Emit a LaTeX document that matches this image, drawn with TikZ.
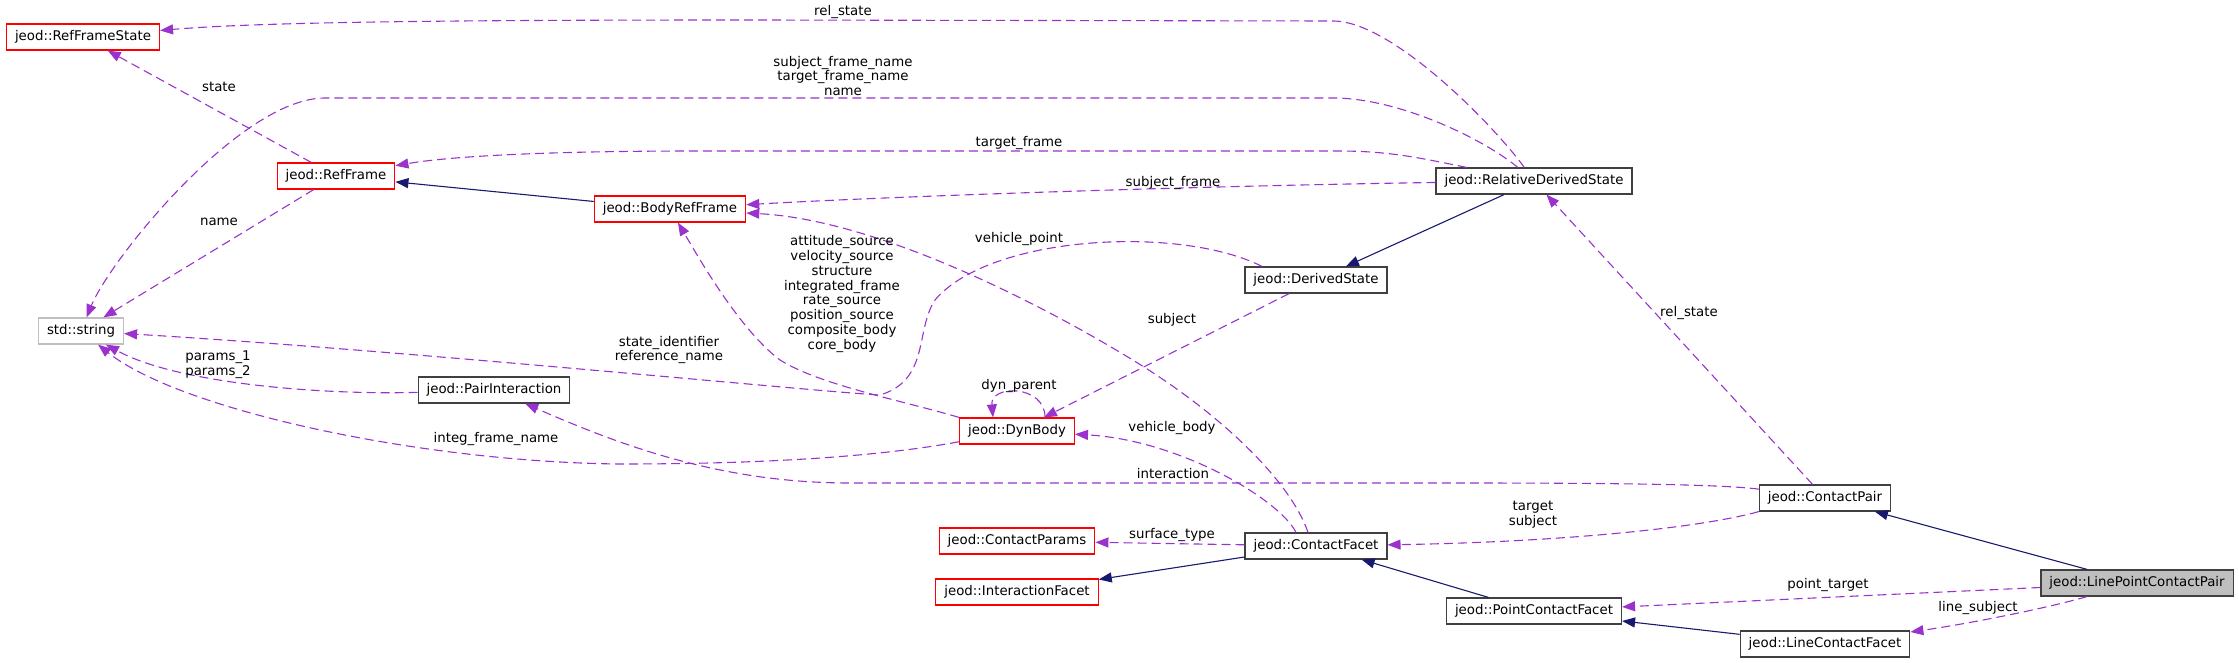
\documentclass[tikz,border=0pt]{standalone}
\usepackage{fontspec}
\setmainfont{DejaVu Sans}
\usetikzlibrary{arrows.meta,calc}
\definecolor{depc}{HTML}{9A32CD}
\definecolor{inhc}{HTML}{191970}
\definecolor{docb}{HTML}{404040}
\definecolor{undoc}{HTML}{FF0000}
\definecolor{extb}{HTML}{BFBFBF}
\newcommand{\lblfont}{\fontsize{6.67pt}{7.4pt}\selectfont}
\begin{document}
\begin{tikzpicture}[x=0.5pt,y=-0.5pt,
  cls/.style={draw=#1, line width=0.6pt, fill=white, inner xsep=4.25pt, inner ysep=0pt,
              minimum height=13pt, text height=4.9pt, text depth=1.5pt, font=\lblfont},
  lbl/.style={font=\lblfont, inner sep=0pt, align=center},
  use/.style={draw=depc, line width=0.55pt, dash pattern=on 4.5pt off 2.5pt,
              -{Triangle[length=6.5pt,width=5pt]}},
  inh/.style={draw=inhc, line width=0.55pt, -{Triangle[length=6.5pt,width=5pt]}},
]
\useasboundingbox (0,0) rectangle (2239,663);

% nodes
\node[cls=undoc] (RFS)  at (83,37)    {jeod::RefFrameState};
\node[cls=undoc] (RF)   at (336,176)  {jeod::RefFrame};
\node[cls=undoc] (BRF)  at (670,209)  {jeod::BodyRefFrame};
\node[cls=extb]  (STR)  at (81,331)   {std::string};
\node[cls=docb]  (PI)   at (494,390)  {jeod::PairInteraction};
\node[cls=undoc] (DB)   at (1017,431) {jeod::DynBody};
\node[cls=docb]  (RDS)  at (1534,181) {jeod::RelativeDerivedState};
\node[cls=docb]  (DS)   at (1316,280) {jeod::DerivedState};
\node[cls=docb]  (CP)   at (1825,498) {jeod::ContactPair};
\node[cls=undoc] (CPar) at (1017,541) {jeod::ContactParams};
\node[cls=docb]  (CF)   at (1316,546) {jeod::ContactFacet};
\node[cls=undoc] (IF)   at (1017,592) {jeod::InteractionFacet};
\node[cls=docb]  (PCF)  at (1534,611) {jeod::PointContactFacet};
\node[cls=docb, fill=extb] (LPCP) at (2137,583) {jeod::LinePointContactPair};
\node[cls=docb]  (LCF)  at (1825,644) {jeod::LineContactFacet};

% edges
\draw[use] (RDS) .. controls (1496,128) and (1393,21) .. (1333,21) -- (750,20)
           .. controls (450,20) and (260,22) .. (RFS);
\draw[use] (RDS) .. controls (1485,140) and (1400,98) .. (1333,98) -- (325,98)
           .. controls (240,98) and (110,260) .. (STR);
\draw[use] (RDS) .. controls (1420,158) and (1390,151) .. (1338,151) -- (700,151)
           .. controls (520,151) and (440,158) .. (RF);
\draw[use] (RDS) .. controls (1200,186) and (900,196) .. (BRF);
\draw[inh] (RDS) -- (DS);
\draw[inh] (BRF) -- (RF);
\draw[use] (RF) -- (RFS);
\draw[use] (RF) -- (STR);
\draw[use] ([xshift=-27pt]DS.north) .. controls (1180,225) and (990,235) .. (935,300)
           .. controls (915,330) and (930,380) .. (880,395)
           .. controls (820,392) and (400,350) .. (STR);
\draw[use] (DS) -- (DB);
\draw[use] ($(DB.north)+(28,0)$) .. controls +(0,-33) and +(-3,-33) .. ($(DB.north)+(-24,0)$);
\draw[use] (DB) .. controls (850,462) and (700,464) .. (620,464)
           .. controls (420,462) and (180,410) .. (STR);
\draw[use] (PI) .. controls (330,395) and (180,385) .. (STR);
\draw[use] (CP) .. controls (1720,484) and (1600,483) .. (1450,483) -- (850,483)
           .. controls (720,483) and (620,445) .. (PI);
\draw[use] (CP.south west) .. controls (1700,528) and (1560,542) .. (CF);
\draw[use] (CP) -- (RDS);
\draw[use] ([xshift=-10pt]CF.north) .. controls (1280,500) and (1180,440) .. (DB);
\draw[use] ([xshift=-4pt]CF.north) .. controls (1290,480) and (1220,415) .. (1144,367)
           .. controls (1050,308) and (880,220) .. (BRF);
\draw[use] (CF) -- (CPar);
\draw[inh] (CF) -- (IF);
\draw[inh] (PCF) -- (CF);
\draw[inh] (LPCP) -- (CP);
\draw[use] (LPCP) -- (PCF);
\draw[use] ([xshift=-25pt]LPCP.south) .. controls (2040,610) and (1960,625) .. (LCF);
\draw[inh] (LCF) -- (PCF);
\draw[use] (DB.north west) .. controls (900,400) and (820,385) .. (780,360)
           .. controls (740,330) and (700,260) .. (BRF);

% labels
\node[lbl] (l1)  at (843,12)   {rel\_state};
\node[lbl] (l2)  at (843,76)   {subject\_frame\_name\\target\_frame\_name\\name};
\node[lbl] (l3)  at (1019,143) {target\_frame};
\node[lbl] (l4)  at (1173,183) {subject\_frame};
\node[lbl] (l5)  at (219,87)   {state};
\node[lbl] (l6)  at (219,222)  {name};
\node[lbl] (l7)  at (669,350)  {state\_identifier\\reference\_name};
\node[lbl] (l8)  at (842,294)  {attitude\_source\\velocity\_source\\structure\\integrated\_frame\\rate\_source\\position\_source\\composite\_body\\core\_body};
\node[lbl] (l9)  at (1019,239) {vehicle\_point};
\node[lbl] (l10) at (1172,320) {subject};
\node[lbl] (l11) at (1019,386) {dyn\_parent};
\node[lbl] (l12) at (1172,428) {vehicle\_body};
\node[lbl] (l13) at (218,365)  {params\_1\\params\_2};
\node[lbl] (l14) at (496,439)  {integ\_frame\_name};
\node[lbl] (l15) at (1173,474) {interaction};
\node[lbl] (l16) at (1172,535) {surface\_type};
\node[lbl] (l17) at (1533,515) {target\\subject};
\node[lbl] (l18) at (1689,313) {rel\_state};
\node[lbl] (l19) at (1828,585) {point\_target};
\node[lbl] (l20) at (1978,608) {line\_subject};
\end{tikzpicture}
\end{document}
